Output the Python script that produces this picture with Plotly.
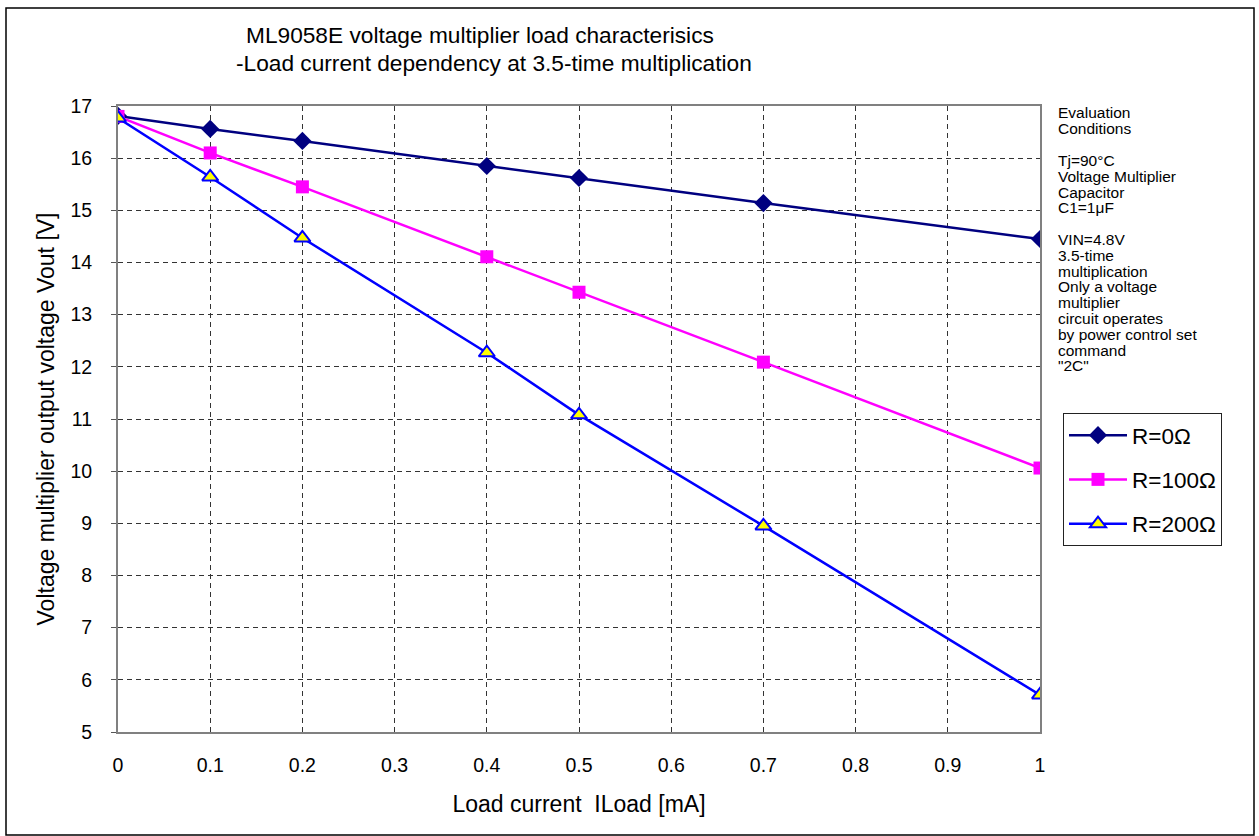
import plotly.graph_objects as go

x_load = [0, 0.1, 0.2, 0.4, 0.5, 0.7, 1.0]
r0 = [16.81, 16.56, 16.33, 15.85, 15.62, 15.14, 14.45]
r100 = [16.80, 16.10, 15.45, 14.11, 13.43, 12.09, 10.06]
r200 = [16.77, 15.64, 14.47, 12.27, 11.08, 8.95, 5.71]
series_names = ["R=0Ω", "R=100Ω", "R=200Ω"]
x_ticks = [0, 0.1, 0.2, 0.3, 0.4, 0.5, 0.6, 0.7, 0.8, 0.9, 1.0]
x_tick_labels = ["0", "0.1", "0.2", "0.3", "0.4", "0.5", "0.6", "0.7", "0.8", "0.9", "1"]
y_ticks = list(range(5, 18))
title_lines = ["ML9058E voltage multiplier load characterisics",
               "-Load current dependency at 3.5-time multiplication"]
condition_lines = ["Evaluation", "Conditions", "", "Tj=90°C", "Voltage Multiplier", "Capacitor",
                   "C1=1μF", "", "VIN=4.8V", "3.5-time", "multiplication", "Only a voltage",
                   "multiplier", "circuit operates", "by power control set", "command", "\"2C\""]

FONT = "Liberation Sans, Arial, sans-serif"

fig = go.Figure()
fig.add_trace(go.Scatter(x=x_load, y=r0, name=series_names[0], mode="lines+markers", legendgroup="a",
                         line=dict(color="#000080", width=2.5),
                         marker=dict(symbol="diamond", size=14, color="#000080")))
fig.add_trace(go.Scatter(x=x_load, y=r100, name=series_names[1], mode="lines+markers", legendgroup="b",
                         line=dict(color="#FF00FF", width=2.5),
                         marker=dict(symbol="square", size=13, color="#FF00FF")))
fig.add_trace(go.Scatter(x=x_load, y=r200, name=series_names[2], mode="lines+markers", legendgroup="c",
                         line=dict(color="#0000FF", width=2.5),
                         marker=dict(symbol="triangle-up", size=14, color="#FFFF00",
                                     line=dict(color="#0000FF", width=2))))

L, R, T, B = 118, 219, 106, 104
pw, ph = 1259 - L - R, 836 - T - B

def px(xp):
    return (xp - L) / pw

def py(yp):
    return (836 - B - yp) / ph

fig.update_layout(
    width=1259, height=836,
    margin=dict(l=L, r=R, t=T, b=B),
    paper_bgcolor="white", plot_bgcolor="white",
    font=dict(family=FONT, size=19.5, color="black"),
    showlegend=True,
    legend=dict(x=px(1063), y=py(413), xanchor="left", yanchor="top",
                bordercolor="#222", borderwidth=1, bgcolor="white",
                font=dict(size=22.5), itemwidth=58, tracegroupgap=12),
    xaxis=dict(range=[0, 1], tickvals=x_ticks, ticktext=x_tick_labels,
               showgrid=True, gridcolor="#333", griddash="5px,4px", gridwidth=1,
               showline=True, linecolor="#808080", linewidth=2, mirror=True,
               ticks="", zeroline=False, ticklabelstandoff=15,
               title=dict(text="Load current  ILoad [mA]", standoff=20)),
    yaxis=dict(range=[5, 17], tickvals=y_ticks,
               showgrid=True, gridcolor="#333", griddash="5px,4px", gridwidth=1,
               showline=True, linecolor="#808080", linewidth=2, mirror=True,
               ticks="outside", ticklen=5, tickcolor="#555", zeroline=False,
               ticklabelstandoff=15,
               title=dict(text="Voltage multiplier output voltage Vout [V]", standoff=9)),
)

fig.add_annotation(xref="paper", yref="paper", x=px(244), y=py(35), xanchor="left", yanchor="middle",
                   text=title_lines[0], showarrow=False, font=dict(size=22.7))
fig.add_annotation(xref="paper", yref="paper", x=px(234), y=py(63), xanchor="left", yanchor="middle",
                   text=title_lines[1], showarrow=False, font=dict(size=22.7))

line_y0, line_step = 113, 15.8
for i, t in enumerate(condition_lines):
    if not t:
        continue
    fig.add_annotation(xref="paper", yref="paper", x=px(1056), y=py(line_y0 + i * line_step),
                       xanchor="left", yanchor="middle", align="left", showarrow=False,
                       font=dict(size=15.5), text=t)

fig.add_shape(type="rect", xref="paper", yref="paper",
              x0=px(6), x1=px(1254), y0=py(835), y1=py(8),
              line=dict(color="black", width=1.5))

fig.write_html("out.html", config={"displayModeBar": False},
               post_script="document.body.style.margin='0';document.body.style.overflow='hidden';")
